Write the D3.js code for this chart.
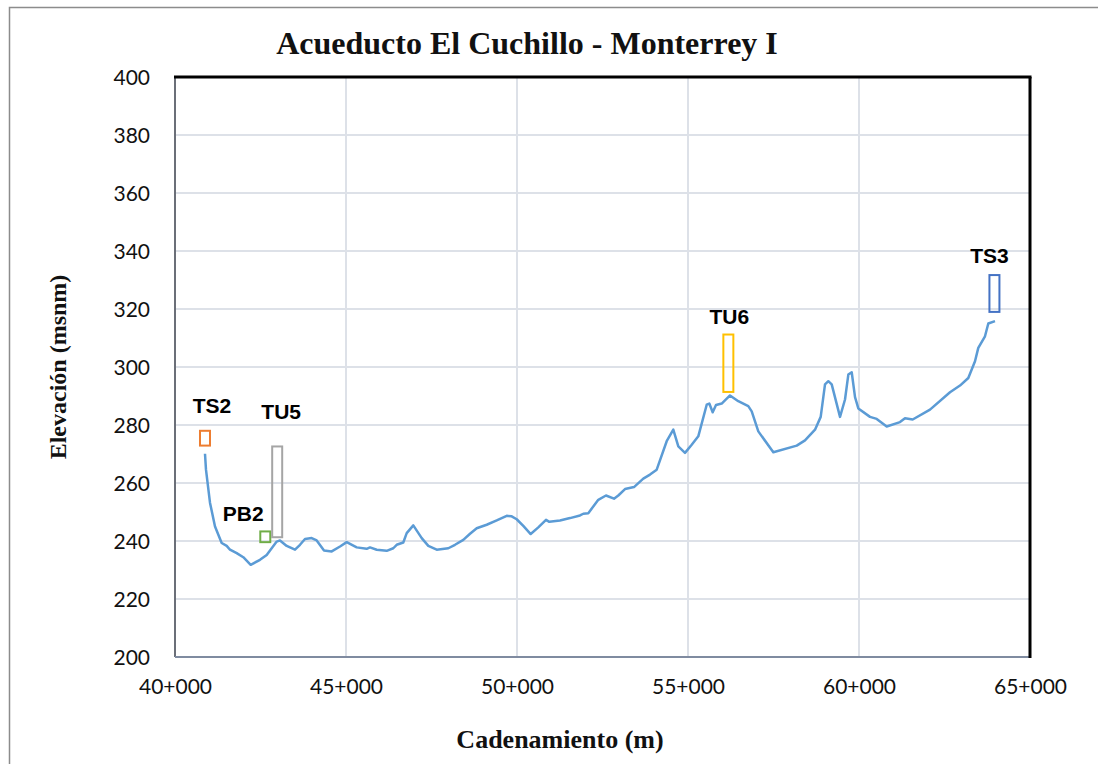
<!DOCTYPE html>
<html>
<head>
<meta charset="utf-8">
<script src="https://cdn.jsdelivr.net/npm/d3@7"></script>
<style>
body{margin:0;background:#fff;}
svg{display:block;}
.tick text{font-family:Lato,"Open Sans",sans-serif;font-size:21px;fill:#111;}
.ttl{font-family:"Liberation Serif","Times New Roman",serif;font-weight:bold;fill:#111;}
.lbl{font-family:"Liberation Sans",Arial,sans-serif;font-weight:bold;font-size:21px;fill:#000;}
</style>
</head>
<body>
<script>
// cadenamiento (m) y elevacion (msnm) del perfil
var chainage=[40877,40906,41023,41170,41365,41512,41608,41804,41997,42213,42485,42681,42827,42974,43070,43266,43509,43655,43801,43997,44143,44357,44582,44825,45020,45313,45605,45702,45898,46190,46383,46482,46675,46775,46968,47214,47407,47652,47991,48187,48430,48626,48822,49114,49407,49699,49845,49991,50184,50400,50623,50848,50945,51257,51550,51842,51939,52085,52377,52602,52836,52962,53158,53421,53693,53889,54085,54377,54570,54717,54912,55108,55301,55547,55623,55722,55819,55985,56228,56471,56763,56863,57056,57495,58179,58421,58714,58880,59006,59103,59202,59445,59591,59688,59787,59884,59980,60322,60518,60810,61199,61345,61570,62076,62661,62953,63196,63392,63488,63684,63781,63977];
var elevation=[270.1,264.6,253.2,245,239.3,238.3,237,235.8,234.4,231.8,233.5,235.2,237.5,239.8,240.2,238.3,237,238.7,240.7,241,240.2,236.7,236.4,238.1,239.6,237.8,237.3,237.8,237,236.6,237.5,238.7,239.5,242.7,245.4,241,238.3,237,237.5,238.7,240.4,242.5,244.4,245.6,247.1,248.7,248.5,247.5,245.2,242.4,244.7,247.3,246.6,247.1,247.9,248.8,249.4,249.6,254.2,255.7,254.6,255.7,257.9,258.6,261.5,262.9,264.6,274.4,278.4,272.6,270.4,273.2,276.1,287,287.4,284.4,286.9,287.4,290.2,288.2,286.5,284.7,277.8,270.6,272.9,274.7,278.4,282.8,294,295.1,294,282.8,288.8,297.4,298.2,289.6,285.7,282.8,282.1,279.5,281,282.3,281.9,285.3,291.3,293.6,296.2,302,306.6,310.6,315,315.8];

// estructuras
var structNames=["TS2","PB2","TU5","TU6","TS3"];
var structPos=[40877,42640,42988,56180,63960];
var structLow=[272.9,239.6,241.3,291.4,319];
var structHigh=[278,243.3,272.6,311.2,331.7];
var structColors=["#ed7d31","#70ad47","#a5a5a5","#ffc000","#4472c4"];

var xTicks=[40000,45000,50000,55000,60000,65000];
var yTicks=[200,220,240,260,280,300,320,340,360,380,400];

var W=1098,H=764;
var pLeft=175,pRight=1030,pTop=77,pBottom=657;

var svg=d3.select("body").append("svg").attr("width",W).attr("height",H);

// marco exterior
svg.append("rect").attr("x",9.5).attr("y",7.5).attr("width",1100).attr("height",800)
	.attr("fill","none").attr("stroke","#8c8c8c").attr("stroke-width",1.5);

var x=d3.scaleLinear().domain([40000,65000]).range([pLeft,pRight]);
var y=d3.scaleLinear().domain([200,400]).range([pBottom,pTop]);

// rejilla
svg.append("g").selectAll("line").data(yTicks.slice(1,-1)).enter().append("line")
	.attr("x1",pLeft).attr("x2",pRight).attr("y1",function(d){return y(d);}).attr("y2",function(d){return y(d);})
	.attr("stroke","#dde1e8").attr("stroke-width",2);
svg.append("g").selectAll("line").data(xTicks.slice(1,-1)).enter().append("line")
	.attr("y1",pTop).attr("y2",pBottom).attr("x1",function(d){return x(d);}).attr("x2",function(d){return x(d);})
	.attr("stroke","#dde1e8").attr("stroke-width",2);

// ejes
var xaxis=d3.axisBottom(x).tickValues(xTicks).tickSize(0).tickPadding(22)
	.tickFormat(function(d){return (d/1000)+"+000";});
var yaxis=d3.axisLeft(y).tickValues(yTicks).tickSize(0).tickPadding(25);
var gx=svg.append("g").attr("transform","translate(0,"+pBottom+")").call(xaxis);
var gy=svg.append("g").attr("transform","translate("+pLeft+",0)").call(yaxis);
gx.select(".domain").remove();
gy.select(".domain").remove();
gy.selectAll(".tick text").attr("dy","0.36em");

// bordes del area de trazado
svg.append("line").attr("x1",pLeft).attr("x2",pLeft).attr("y1",pTop).attr("y2",pBottom).attr("stroke","#6b6f78").attr("stroke-width",2);
svg.append("line").attr("x1",pLeft).attr("x2",pRight).attr("y1",pBottom).attr("y2",pBottom).attr("stroke","#7f8ba0").attr("stroke-width",2);
svg.append("line").attr("x1",pLeft-1).attr("x2",pRight+1.5).attr("y1",pTop).attr("y2",pTop).attr("stroke","#000").attr("stroke-width",3);
svg.append("line").attr("x1",pRight).attr("x2",pRight).attr("y1",pTop).attr("y2",pBottom+1).attr("stroke","#000").attr("stroke-width",3);

// perfil
var pts=chainage.map(function(c,i){return [c,elevation[i]];});
svg.append("path").datum(pts).attr("fill","none").attr("stroke","#5b9bd5").attr("stroke-width",2.5)
	.attr("stroke-linejoin","round")
	.attr("d",d3.line().x(function(d){return x(d[0]);}).y(function(d){return y(d[1]);}));

// estructuras como rectangulos
var labelOff={TS2:[7,-18],PB2:[-22,-10],TU5:[4,-27],TU6:[1,-11],TS3:[-5,-12]};
structNames.forEach(function(n,i){
	var cx=x(structPos[i]);
	svg.append("rect").attr("x",cx-5).attr("width",10)
		.attr("y",y(structHigh[i])).attr("height",y(structLow[i])-y(structHigh[i]))
		.attr("fill","none").attr("stroke",structColors[i]).attr("stroke-width",2);
	var o=labelOff[n];
	svg.append("text").attr("class","lbl").attr("text-anchor","middle")
		.attr("x",cx+o[0]).attr("y",y(structHigh[i])+o[1]).text(n);
});

// titulos
svg.append("text").attr("class","ttl").attr("x",527).attr("y",54).attr("text-anchor","middle")
	.style("font-size","32px").text("Acueducto El Cuchillo - Monterrey I");
svg.append("text").attr("class","ttl").attr("x",560).attr("y",748).attr("text-anchor","middle")
	.style("font-size","26px").text("Cadenamiento (m)");
svg.append("text").attr("class","ttl").attr("transform","translate(66,367) rotate(-90)").attr("text-anchor","middle")
	.style("font-size","24px").text("Elevación (msnm)");
</script>
</body>
</html>
